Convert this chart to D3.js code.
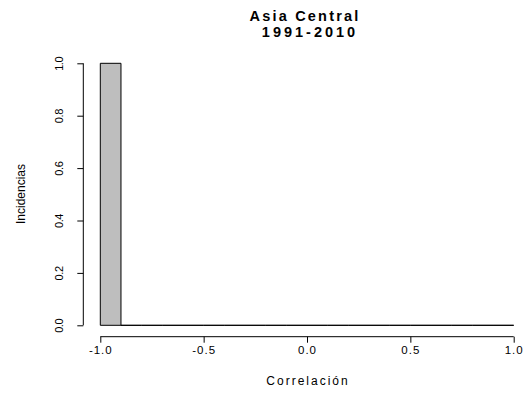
<!DOCTYPE html>
<html><head><meta charset="utf-8">
<script src="https://cdn.jsdelivr.net/npm/d3@7"></script>
<style>body{margin:0;background:#fff}svg{display:block}text{font-family:"Liberation Sans",Arial,sans-serif}</style>
</head><body>
<script>
const binStarts = [-1.0,-0.9,-0.8,-0.7,-0.6,-0.5,-0.4,-0.3,-0.2,-0.1,0.0,0.1,0.2,0.3,0.4,0.5,0.6,0.7,0.8,0.9];
const binWidth = 0.1;
const counts = [1,0,0,0,0,0,0,0,0,0,0,0,0,0,0,0,0,0,0,0];
const xTicks = [-1.0,-0.5,0.0,0.5,1.0];
const yTicks = [0.0,0.2,0.4,0.6,0.8,1.0];
const title1 = "Asia Central", title2 = "1991-2010";
const xLabel = "Correlación", yLabel = "Incidencias";

const W=523,H=396;
const svg=d3.select("body").append("svg").attr("width",W).attr("height",H);
const x=d3.scaleLinear().domain([-1,1]).range([100.3,513.7]);
const y=d3.scaleLinear().domain([0,1]).range([325.3,63.3]);
const fmt=d=>d3.format(".1f")(d).replace("\u2212","-");

svg.append("g").selectAll("path").data(binStarts).join("path")
 .attr("d",(d,i)=>`M${x(d)},${y(0)}V${y(counts[i])}H${x(d+binWidth)}V${y(0)}Z`)
 .attr("fill","#bebebe").attr("stroke","#000").attr("stroke-width",1);

const xa=svg.append("g").attr("transform","translate(0,336.7)")
 .call(d3.axisBottom(x).tickValues(xTicks).tickFormat(fmt).tickSize(6).tickSizeOuter(0));
xa.select(".domain").attr("d",`M${x(-1)},0H${x(1)}`);
xa.selectAll("text").attr("y",17.8).attr("dy",0).attr("font-size",11.5).attr("font-family","Liberation Sans, Arial").style("letter-spacing","1px");

const ya=svg.append("g").attr("transform","translate(83.3,0)")
 .call(d3.axisLeft(y).tickValues(yTicks).tickFormat(fmt).tickSize(6).tickSizeOuter(0));
ya.select(".domain").attr("d",`M0,${y(0)}V${y(1)}`);
ya.selectAll(".tick text").attr("x",null).attr("dy",null)
 .attr("transform","translate(-20,0) rotate(-90)").attr("text-anchor","middle").attr("font-size",11).style("letter-spacing","-0.4px").attr("font-family","Liberation Sans, Arial");
svg.selectAll(".tick line, .domain").attr("stroke","#000");

svg.append("text").attr("x",305).attr("y",20.5).attr("text-anchor","middle").attr("font-weight","bold").attr("font-size",14.5).style("letter-spacing","2.2px").text(title1);
svg.append("text").attr("x",310).attr("y",37).attr("text-anchor","middle").attr("font-weight","bold").attr("font-size",14.5).style("letter-spacing","3px").text(title2);
svg.append("text").attr("x",308).attr("y",385).attr("text-anchor","middle").attr("font-size",12).style("letter-spacing","2px").text(xLabel);
svg.append("text").attr("transform","translate(24.5,194) rotate(-90)").attr("text-anchor","middle").attr("font-size",12).text(yLabel);
</script>
</body></html>
